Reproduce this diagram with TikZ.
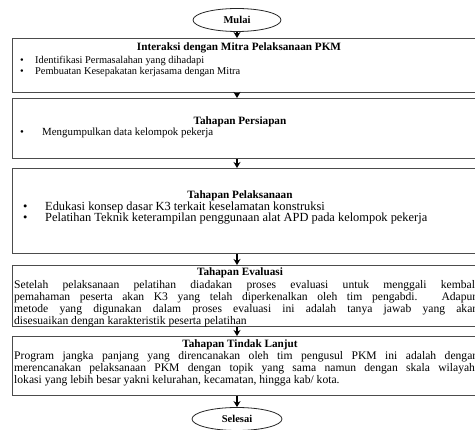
\documentclass[tikz,border=0pt]{standalone}
\usepackage{fontspec}
\setmainfont{Liberation Serif}
\usetikzlibrary{arrows.meta,shapes.geometric}

\tikzset{
  stepbox/.style={draw=black!70, line width=1.1pt, rectangle, anchor=north west, inner sep=0pt, minimum width=480pt},
  terminal/.style={draw=black!85, ellipse, line width=0.8pt, inner sep=0pt, minimum width=88pt, minimum height=23pt, font=\bfseries\fontsize{10.5}{12}\selectfont},
  title/.style={inner sep=0pt, font=\bfseries\fontsize{11.2}{12}\selectfont},
  item/.style={anchor=west, inner sep=0pt, font=\fontsize{10.4}{11}\selectfont},
  bigitem/.style={anchor=west, inner sep=0pt, font=\fontsize{12.4}{13}\selectfont},
  para/.style={anchor=north west, inner sep=0pt, text width=464pt, align=justify, font=\fontsize{11.6}{12.1}\selectfont},
  flow/.style={-{Stealth[length=6pt,width=7pt]}, line width=1.6pt}
}

\begin{document}
\begin{tikzpicture}[x=1pt, y=-1pt]
    \useasboundingbox (0,0) rectangle (475,430);

    % Start
    \node[terminal] (mulai) at (237,20) {Mulai};

    % Interaksi
    \node[stepbox, minimum height=54pt] (interaksi) at (12,38) {};
    \node[title] (tinteraksi) at (239,48) {Interaksi dengan Mitra Pelaksanaan PKM};
    \node[item] (iinteraksia) at (20,61) {\makebox[15pt][l]{\textbullet}Identifikasi Permasalahan yang dihadapi};
    \node[item] (iinteraksib) at (20,72) {\makebox[15pt][l]{\textbullet}Pembuatan Kesepakatan kerjasama dengan Mitra};

    % Persiapan
    \node[stepbox, minimum height=60pt] (persiapan) at (12,98) {};
    \node[title] (tpersiapan) at (240,122) {Tahapan Persiapan};
    \node[item, font=\fontsize{10.9}{12}\selectfont] (ipersiapan) at (20,133) {\makebox[22pt][l]{\textbullet}Mengumpulkan data kelompok pekerja};

    % Pelaksanaan
    \node[stepbox, minimum height=85pt] (pelaksanaan) at (12,168) {};
    \node[title] (tpelaksanaan) at (240,196) {Tahapan Pelaksanaan};
    \node[bigitem] (ipelaksanaana) at (23,208) {\makebox[22pt][l]{\textbullet}Edukasi konsep dasar K3 terkait keselamatan konstruksi};
    \node[bigitem] (ipelaksanaanb) at (23,219) {\makebox[22pt][l]{\textbullet}Pelatihan Teknik keterampilan penggunaan alat APD pada kelompok pekerja};

    % Evaluasi
    \node[stepbox, minimum height=61pt] (evaluasi) at (12,265) {};
    \node[title] (tevaluasi) at (240,272.5) {Tahapan Evaluasi};
    \node[para] (pevaluasi) at (14,280) {Setelah pelaksanaan pelatihan diadakan proses evaluasi untuk menggali kembali\linebreak
      pemahaman peserta akan K3 yang telah diperkenalkan oleh tim pengabdi. Adapun\linebreak
      metode yang digunakan dalam proses evaluasi ini adalah tanya jawab yang akan\linebreak
      disesuaikan dengan karakteristik peserta pelatihan};

    % Tindak lanjut
    \node[stepbox, minimum height=59pt] (lanjut) at (12,336) {};
    \node[title] (tlanjut) at (240,344.5) {Tahapan Tindak Lanjut};
    \node[para] (planjut) at (14,351) {Program jangka panjang yang direncanakan oleh tim pengusul PKM ini adalah dengan\linebreak
      merencanakan pelaksanaan PKM dengan topik yang sama namun dengan skala wilayah/\linebreak
      lokasi yang lebih besar yakni kelurahan, kecamatan, hingga kab/ kota.};

    % End
    \node[terminal, minimum width=90pt] (selesai) at (237,419) {Selesai};

    % Arrows
    \draw[flow] (mulai.south) -- (interaksi.north -| mulai.south);
    \draw[flow] (interaksi.south -| mulai.south) -- (persiapan.north -| mulai.south);
    \draw[flow] (persiapan.south -| mulai.south) -- (pelaksanaan.north -| mulai.south);
    \draw[flow] (pelaksanaan.south -| mulai.south) -- (evaluasi.north -| mulai.south);
    \draw[flow] (evaluasi.south -| mulai.south) -- (lanjut.north -| mulai.south);
    \draw[flow] (lanjut.south -| mulai.south) -- (selesai.north);
\end{tikzpicture}
\end{document}
